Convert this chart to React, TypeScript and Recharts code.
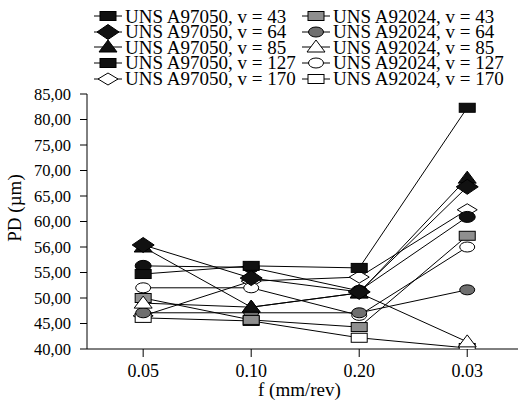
import { Line, LineChart, XAxis, YAxis } from "recharts"

// feed rate categories (x axis)
const fLabels = ['0.05', '0.10', '0.20', '0.03']

// y tick labels as printed on the figure (bottom -> top, evenly spaced)
const pdTickLabels = ['40,00', '45,00', '50,00', '55,00', '56,00', '60,00', '65,00', '70,00', '75,00', '80,00', '85,00']

// PD values per feed (position on the evenly spaced axis)
const a97050v43 = [54.7, 56.3, 55.9, 87.3]
const a97050v64 = [60.4, 53.9, 51.2, 71.8]
const a97050v85 = [60.0, 48.2, 51.0, 73.5]
const a97050v127 = [56.3, 56.0, 51.4, 65.9]
const a97050v170 = [46.5, 53.3, 54.1, 67.3]
const a92024v43 = [50.0, 45.7, 44.3, 62.2]
const a92024v64 = [47.1, 47.1, 47.1, 51.6]
const a92024v85 = [49.0, 48.2, 51.0, 41.4]
const a92024v127 = [52.0, 52.0, 46.6, 60.0]
const a92024v170 = [46.1, 45.5, 42.2, 40.2]

type Kind = 'sq' | 'dia' | 'tri' | 'circ' | 'diaW' | 'sqG' | 'circG' | 'triW' | 'circW' | 'sqW'

const seriesA97050 = [
  { key: 'a97050v43', name: 'UNS A97050, v = 43', values: a97050v43, kind: 'sq' as Kind, legendKind: 'sq' as Kind },
  { key: 'a97050v64', name: 'UNS A97050, v = 64', values: a97050v64, kind: 'dia' as Kind, legendKind: 'dia' as Kind },
  { key: 'a97050v85', name: 'UNS A97050, v = 85', values: a97050v85, kind: 'tri' as Kind, legendKind: 'tri' as Kind },
  { key: 'a97050v127', name: 'UNS A97050, v = 127', values: a97050v127, kind: 'circ' as Kind, legendKind: 'sq' as Kind },
  { key: 'a97050v170', name: 'UNS A97050, v = 170', values: a97050v170, kind: 'diaW' as Kind, legendKind: 'diaW' as Kind },
]
const seriesA92024 = [
  { key: 'a92024v43', name: 'UNS A92024, v = 43', values: a92024v43, kind: 'sqG' as Kind, legendKind: 'sqG' as Kind },
  { key: 'a92024v64', name: 'UNS A92024, v = 64', values: a92024v64, kind: 'circG' as Kind, legendKind: 'circG' as Kind },
  { key: 'a92024v85', name: 'UNS A92024, v = 85', values: a92024v85, kind: 'triW' as Kind, legendKind: 'triW' as Kind },
  { key: 'a92024v127', name: 'UNS A92024, v = 127', values: a92024v127, kind: 'circW' as Kind, legendKind: 'circW' as Kind },
  { key: 'a92024v170', name: 'UNS A92024, v = 170', values: a92024v170, kind: 'sqW' as Kind, legendKind: 'sqW' as Kind },
]

// draw order: hidden ones first, black on top; triangle under diamond
const drawOrder = [
  seriesA97050[4], seriesA92024[3], seriesA92024[4], seriesA92024[1], seriesA92024[0], seriesA92024[2],
  seriesA97050[3], seriesA97050[0], seriesA97050[2], seriesA97050[1],
]

const data = fLabels.map((_, i) => {
  const row: Record<string, number> = { x: i }
  ;[...seriesA97050, ...seriesA92024].forEach(s => { row[s.key] = s.values[i] })
  return row
})

const font = '"Liberation Serif", "Times New Roman", serif'

function Marker({ kind, x, y }: { kind: Kind; x: number; y: number }) {
  const k = { stroke: '#000', strokeWidth: 1 }
  switch (kind) {
    case 'sq': return <rect x={x - 8} y={y - 4.5} width={16} height={9} fill="#111" {...k} />
    case 'sqG': return <rect x={x - 8} y={y - 4.5} width={16} height={9} fill="#8f8f8f" {...k} />
    case 'sqW': return <rect x={x - 8} y={y - 4.5} width={16} height={9} fill="#fff" {...k} />
    case 'dia': return <polygon points={`${x - 11},${y} ${x},${y - 7.5} ${x + 11},${y} ${x},${y + 7.5}`} fill="#111" {...k} />
    case 'diaW': return <polygon points={`${x - 10},${y} ${x},${y - 6} ${x + 10},${y} ${x},${y + 6}`} fill="#fff" {...k} />
    case 'tri': return <polygon points={`${x - 9},${y + 5} ${x},${y - 7} ${x + 9},${y + 5}`} fill="#111" {...k} />
    case 'triW': return <polygon points={`${x - 9},${y + 5} ${x},${y - 7} ${x + 9},${y + 5}`} fill="#fff" {...k} />
    case 'circ': return <ellipse cx={x} cy={y} rx={8} ry={5.5} fill="#111" {...k} />
    case 'circG': return <ellipse cx={x} cy={y} rx={7.5} ry={5} fill="#6f6f6f" {...k} />
    case 'circW': return <ellipse cx={x} cy={y} rx={7.5} ry={5} fill="#fff" {...k} />
  }
  return null
}

const rowTops = [16, 31.5, 47, 62.5, 78.5]

function LegendBox() {
  return (
    <div style={{ position: 'absolute', left: 0, top: 0, width: 518, height: 90, fontFamily: font, fontSize: 19, color: '#000' }}>
      {seriesA97050.map((s, i) => (
        <div key={s.key}>
          <svg style={{ position: 'absolute', left: 90, top: rowTops[i] - 10 }} width={34} height={20}>
            <line x1={4} x2={32} y1={10} y2={10} stroke="#000" />
            <Marker kind={s.legendKind} x={18} y={10} />
          </svg>
          <span style={{ position: 'absolute', left: 125, top: rowTops[i] - 7.5, whiteSpace: 'nowrap', lineHeight: '15px' }}>{s.name}</span>
        </div>
      ))}
      {seriesA92024.map((s, i) => (
        <div key={s.key}>
          <svg style={{ position: 'absolute', left: 299, top: rowTops[i] - 10 }} width={34} height={20}>
            <line x1={3} x2={31} y1={10} y2={10} stroke="#000" />
            <Marker kind={s.legendKind} x={17} y={10} />
          </svg>
          <span style={{ position: 'absolute', left: 333, top: rowTops[i] - 7.5, whiteSpace: 'nowrap', lineHeight: '15px' }}>{s.name}</span>
        </div>
      ))}
    </div>
  )
}

function App() {
  const yTicks = pdTickLabels.map((_, i) => 40 + i * 5)
  return (
    <div style={{ position: 'absolute', left: 0, top: 0, width: 518, height: 400, background: '#fff', overflow: 'hidden' }}>
      <LineChart width={518} height={400} data={data} margin={{ top: 94, right: 0, bottom: 0, left: 0 }}>
        <XAxis
          dataKey="x"
          type="number"
          domain={[-0.52, 3.47]}
          allowDataOverflow
          ticks={[0, 1, 2, 3]}
          tickFormatter={(v: number) => fLabels[v]}
          height={51}
          tickSize={8}
          tickMargin={7}
          stroke="#000"
          tick={{ fill: '#000', fontSize: 18, fontFamily: font }}
        />
        <YAxis
          type="number"
          domain={[40, 90]}
          allowDataOverflow
          ticks={yTicks}
          interval={0}
          tickFormatter={(v: number) => pdTickLabels[Math.round((v - 40) / 5)]}
          width={87}
          tickSize={7}
          tickMargin={9}
          stroke="#000"
          tick={{ fill: '#000', fontSize: 16.5, fontFamily: font }}
        />
        {drawOrder.map(s => (
          <Line
            key={s.key}
            dataKey={s.key}
            stroke="#000"
            strokeWidth={1}
            isAnimationActive={false}
            activeDot={false}
            dot={(p: any) => <Marker key={`${s.key}-${p.index}`} kind={s.kind} x={p.cx} y={p.cy} />}
          />
        ))}
      </LineChart>
      <LegendBox />
      <div style={{ position: 'absolute', left: 258, top: 379, fontFamily: font, fontSize: 19, whiteSpace: 'nowrap' }}>f (mm/rev)</div>
      <div style={{ position: 'absolute', left: 15, top: 208, width: 0, height: 0 }}>
        <div style={{ position: 'absolute', transform: 'translate(-50%, -50%) rotate(-90deg)', fontFamily: font, fontSize: 19, whiteSpace: 'nowrap' }}>PD (µm)</div>
      </div>
    </div>
  )
}

export default App
